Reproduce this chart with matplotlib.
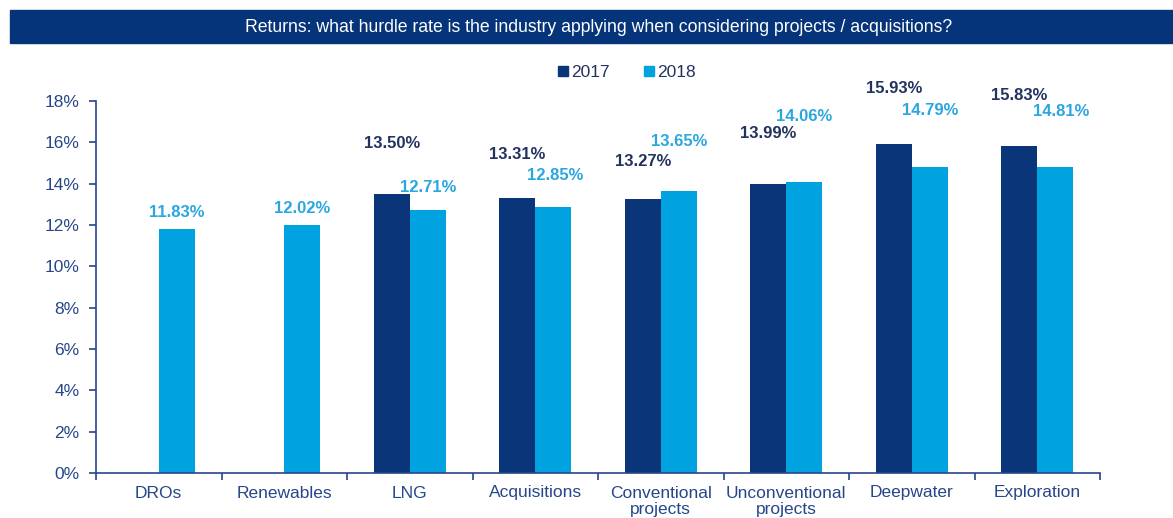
import numpy as np
import matplotlib.pyplot as plt
from matplotlib.patches import Rectangle
from matplotlib.lines import Line2D

categories = ['DROs', 'Renewables', 'LNG', 'Acquisitions', 'Conventional\nprojects',
              'Unconventional\nprojects', 'Deepwater', 'Exploration']
values_2017 = [np.nan, np.nan, 13.50, 13.31, 13.27, 13.99, 15.93, 15.83]
values_2018 = [11.83, 12.02, 12.71, 12.85, 13.65, 14.06, 14.79, 14.81]
y_ticks = [0, 2, 4, 6, 8, 10, 12, 14, 16, 18]

# hand-placed label offsets (pixels above the bar top), like the original
lift_2017 = [0, 0, 50, 43, 37, 50, 55, 50]
lift_2018 = [16, 16, 23, 32, 49, 66, 57, 55]
shift_2018 = [0, 0, 0, 2, 0, 0, 0, 6]

navy = '#0a3578'
sky = '#00a3e0'
axis_col = '#27468a'

plt.rcParams['font.family'] = ['Liberation Sans', 'DejaVu Sans']

fig = plt.figure(figsize=(11.73, 5.18), dpi=100)
ax = fig.add_axes([96 / 1173, 45 / 518, 1004 / 1173, 372 / 518])

x = np.arange(len(categories))
w = 0.287
ax.bar(x - w / 2, values_2017, w, color=navy)
ax.bar(x + w / 2, values_2018, w, color=sky)

for i, v in enumerate(values_2017):
    if np.isnan(v):
        continue
    ax.annotate(f'{v:.2f}%', (x[i] - w / 2, v), xytext=(0, lift_2017[i]),
                textcoords='offset pixels', ha='center', va='center',
                fontsize=12, fontweight='bold', color='#22335f')
for i, v in enumerate(values_2018):
    ax.annotate(f'{v:.2f}%', (x[i] + w / 2, v), xytext=(shift_2018[i], lift_2018[i]),
                textcoords='offset pixels', ha='center', va='center',
                fontsize=12, fontweight='bold', color='#2aa6e0')

ax.set_xlim(-0.5, len(categories) - 0.5)
ax.set_ylim(0, 18)
ax.set_yticks(y_ticks)
ax.set_yticklabels([f'{t}%' for t in y_ticks])
ax.set_xticks(x)
ax.set_xticklabels(categories, linespacing=1.1)
ax.set_xticks(np.arange(len(categories) + 1) - 0.5, minor=True)
ax.tick_params(axis='x', which='major', length=0, pad=9, labelsize=12.5, labelcolor=axis_col)
ax.tick_params(axis='x', which='minor', length=5, width=1.2, color=axis_col, direction='out')
ax.tick_params(axis='y', length=5, width=1.2, color=axis_col, pad=7,
               labelsize=12.5, labelcolor=axis_col)
for s in ['top', 'right']:
    ax.spines[s].set_visible(False)
for s in ['left', 'bottom']:
    ax.spines[s].set_color(axis_col)
    ax.spines[s].set_linewidth(1.2)

# legend
handles = [Line2D([], [], marker='s', ls='', color=navy, markersize=7),
           Line2D([], [], marker='s', ls='', color=sky, markersize=7)]
fig.legend(handles, ['2017', '2018'], loc='center', bbox_to_anchor=(0.534, 0.86),
           ncol=2, frameon=False, fontsize=12.5, handlelength=0.7, handletextpad=0.1,
           columnspacing=1.9, labelcolor='#22335f')

# title bar
fig.patches.append(Rectangle((10 / 1173, 475 / 518), 1, 33 / 518, transform=fig.transFigure,
                             color='#06347a', zorder=0))
fig.text(599 / 1173, 491 / 518,
         'Returns: what hurdle rate is the industry applying when considering projects / acquisitions?',
         ha='center', va='center', color='white', fontsize=12.7)

fig.savefig('out.png', dpi=100)
